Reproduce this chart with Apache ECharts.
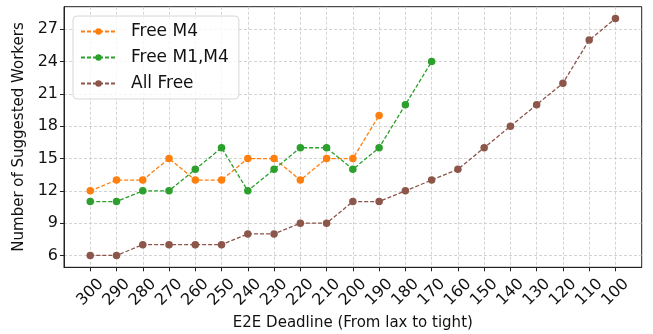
<!DOCTYPE html>
<html><head><meta charset="utf-8">
<script src="https://cdn.jsdelivr.net/npm/echarts@6/dist/echarts.min.js"></script>
<style>html,body{margin:0;padding:0;background:#fff}#c{width:653px;height:334px}</style>
</head><body><div id="c"></div>
<script>
const categories = ['300','290','280','270','260','250','240','230','220','210','200','190','180','170','160','150','140','130','120','110','100'];
const freeM4 = [12,13,13,15,13,13,15,15,13,15,15,19];
const freeM1M4 = [11,11,12,12,14,16,12,14,16,16,14,16,20,24];
const allFree = [6,6,7,7,7,7,8,8,9,9,11,11,12,13,14,16,18,20,22,26,28];
const yTicks = [6,9,12,15,18,21,24,27];
const seriesNames = ['Free M4','Free M1,M4','All Free'];
const colors = ['#ff7f0e','#2ca02c','#8c564b'];

const FONT = 'DejaVu Sans';
const idx = categories.map((_, i) => i);
function pts(arr){ return arr.map((v,i)=>[i,v]); }
function mk(name, data, color){
  return {name, type:'line', data:pts(data), symbol:'circle', symbolSize:7.5,
    itemStyle:{color}, lineStyle:{color, width:1.3, type:[4,2]}, emphasis:{disabled:true}};
}
const chart = echarts.init(document.getElementById('c'), null, {renderer:'canvas'});
chart.setOption({
  animation:false,
  textStyle:{fontFamily:FONT},
  grid:{left:64, right:11.3, top:6.7, bottom:66.7, containLabel:false, outerBoundsMode:'none',
    show:true, borderColor:'#222', borderWidth:1, backgroundColor:'transparent'},
  legend:{
    orient:'vertical', left:73, top:16,
    data:seriesNames,
    itemWidth:35, itemHeight:8, itemGap:9,
    padding:[7,10,7,7],
    borderColor:'#d6d6d6', borderWidth:1, borderRadius:4, backgroundColor:'rgba(255,255,255,0.8)',
    textStyle:{fontFamily:FONT, fontSize:17, color:'#111', padding:[0,0,0,10]}
  },
  xAxis:{
    type:'value', min:-1, max:21, interval:1,
    name:'E2E Deadline (From lax to tight)', nameLocation:'middle', nameGap:48,
    nameTextStyle:{fontFamily:FONT, fontSize:15, color:'#111'},
    axisLine:{show:true, onZero:false, lineStyle:{color:'#222'}},
    axisTick:{show:true, inside:false, customValues:idx, length:4, lineStyle:{color:'#222'}},
    axisLabel:{customValues:idx, rotate:45, align:'center', verticalAlign:'middle', fontFamily:FONT, fontSize:16, color:'#111', margin:25,
      formatter:v=>categories[v] ?? ''},
    splitLine:{show:true, lineStyle:{color:'#c8c8c8', type:[3,2], width:0.8}}
  },
  yAxis:{
    type:'value', min:4.9, max:29.1,
    name:'Number of Suggested Workers', nameLocation:'middle', nameGap:34,
    nameTextStyle:{fontFamily:FONT, fontSize:15, color:'#111'},
    axisLine:{show:true, onZero:false, lineStyle:{color:'#222'}},
    axisTick:{show:true, inside:false, customValues:yTicks, length:4, lineStyle:{color:'#222'}},
    axisLabel:{customValues:yTicks, fontFamily:FONT, fontSize:16, color:'#111', margin:6},
    splitLine:{show:true, lineStyle:{color:'#c8c8c8', type:[3,2], width:0.8}}
  },
  series:[mk(seriesNames[0], freeM4, colors[0]), mk(seriesNames[1], freeM1M4, colors[1]), mk(seriesNames[2], allFree, colors[2])]
});
</script></body></html>
